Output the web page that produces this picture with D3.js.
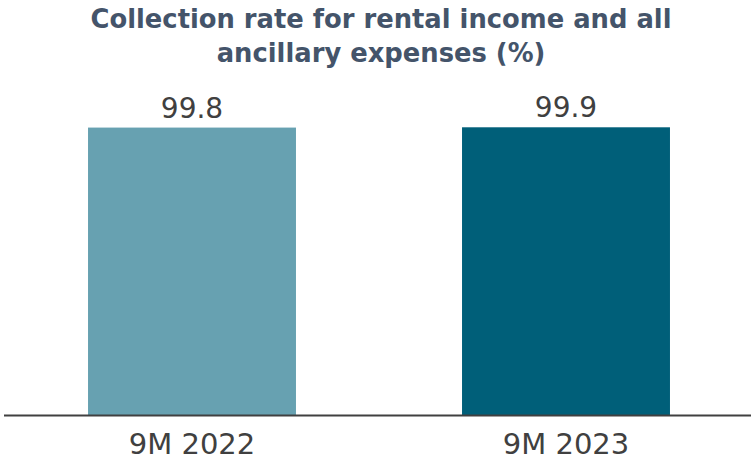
<!DOCTYPE html>
<html>
<head>
<meta charset="utf-8">
<script src="https://cdn.jsdelivr.net/npm/d3@7"></script>
<style>
  html, body { margin: 0; padding: 0; background: #fff; }
  svg { display: block; font-family: 'DejaVu Sans', Verdana, sans-serif; }
</style>
</head>
<body>
<div id="chart"></div>
<script>
const categories = ['9M 2022', '9M 2023']
const values = [99.8, 99.9]
const colors = ['#67a1b1', '#005f79']
const titleLines = ['Collection rate for rental income and all', 'ancillary expenses (%)']

const width = 751
const height = 459
const margin = { top: 127, left: 5, right: -2, bottom: 44 }

const svg = d3
  .select('#chart')
  .append('svg')
  .attr('width', width)
  .attr('height', height)

const xPositionScale = d3
  .scaleBand()
  .domain(categories)
  .range([margin.left, width - margin.right])
  .paddingInner(0.444)
  .paddingOuter(0.222)

const yPositionScale = d3
  .scaleLinear()
  .domain([0, 100])
  .range([height - margin.bottom, margin.top])

// title
svg
  .append('g')
  .selectAll('text')
  .data(titleLines)
  .join('text')
  .attr('x', 381)
  .attr('y', (d, i) => 28 + i * 34)
  .attr('text-anchor', 'middle')
  .style('font-weight', 'bold')
  .style('font-size', '25.8px')
  .style('fill', '#44546a')
  .text(d => d)

const data = categories.map((c, i) => ({ category: c, value: values[i], color: colors[i] }))

svg
  .selectAll('.bar')
  .data(data)
  .join('rect')
  .attr('class', 'bar')
  .attr('x', d => xPositionScale(d.category))
  .attr('width', xPositionScale.bandwidth())
  .attr('y', d => yPositionScale(d.value))
  .attr('height', d => yPositionScale(0) - yPositionScale(d.value))
  .style('fill', d => d.color)

svg
  .selectAll('.value-label')
  .data(data)
  .join('text')
  .attr('class', 'value-label')
  .attr('x', d => xPositionScale(d.category) + xPositionScale.bandwidth() / 2)
  .attr('y', d => yPositionScale(d.value) - 10)
  .attr('text-anchor', 'middle')
  .style('font-size', '28px')
  .style('fill', '#404040')
  .text(d => d3.format('.1f')(d.value))

// baseline + category labels
const xAxis = d3.axisBottom(xPositionScale).tickSize(0).tickPadding(18)

const axis = svg
  .append('g')
  .attr('class', 'x axis')
  .attr('transform', 'translate(0,' + (yPositionScale(0) + 0.5) + ')')
  .call(xAxis)

axis
  .select('.domain')
  .attr('d', 'M' + (margin.left - 1) + ',0H' + width)
  .style('stroke', '#404040')
  .style('stroke-width', 2)

axis
  .selectAll('text')
  .style('font-family', "'DejaVu Sans', Verdana, sans-serif")
  .style('font-size', '29px')
  .style('fill', '#404040')
</script>
</body>
</html>
